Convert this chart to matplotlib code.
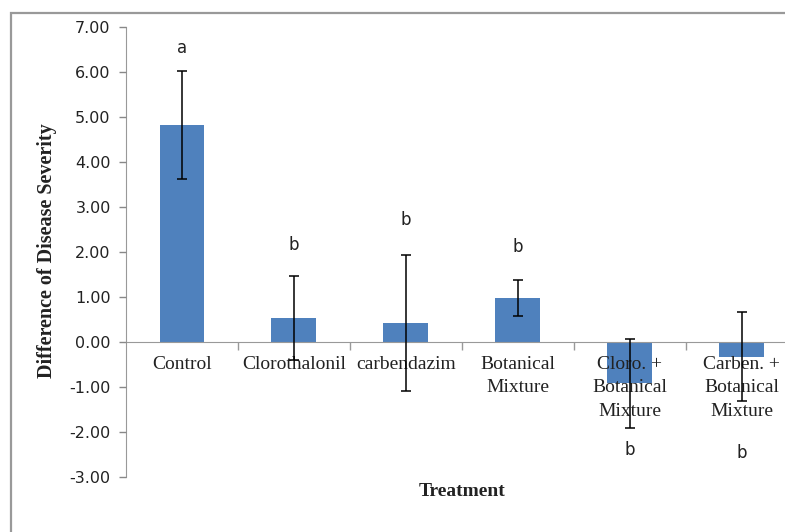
import matplotlib
matplotlib.use('Agg')
import matplotlib.pyplot as plt
from matplotlib.patches import Rectangle
import numpy as np

# data
treatments = ['Control', 'Clorothalonil', 'carbendazim', 'Botanical\nMixture',
              'Cloro. +\nBotanical\nMixture', 'Carben. +\nBotanical\nMixture']
severity_diff = [4.82, 0.53, 0.43, 0.98, -0.92, -0.33]
std_err = [1.20, 0.93, 1.51, 0.40, 0.99, 0.99]
letters = ['a', 'b', 'b', 'b', 'b', 'b']
letter_y = [6.53, 2.16, 2.71, 2.12, -2.40, -2.47]
y_ticks = [-3, -2, -1, 0, 1, 2, 3, 4, 5, 6, 7]

W, H = 785, 532
fig = plt.figure(figsize=(W / 100, H / 100), dpi=100)
fig.patch.set_facecolor('white')

# axes placed in pixel terms; right edge runs past the figure like the original crop
left, right = 126, 797.5
top, bottom = 27, 477
ax = fig.add_axes([left / W, 1 - bottom / H, (right - left) / W, (bottom - top) / H])
ax.set_axisbelow(False)  # category labels drawn over the negative bars

x = np.arange(len(treatments))
ax.bar(x, severity_diff, width=0.4, color='#4F81BD', zorder=2)
ax.errorbar(x, severity_diff, yerr=std_err, fmt='none', ecolor='black',
            elinewidth=1.1, capsize=3.5, capthick=1.1, zorder=4)

for xi, lab, ly in zip(x, letters, letter_y):
    ax.text(xi, ly, lab, ha='center', va='center', fontsize=12,
            family='DejaVu Sans', color='#222222')

ax.set_xlim(-0.5, len(treatments) - 0.5)
ax.set_ylim(-3, 7)

ax.set_yticks(y_ticks)
ax.set_yticklabels([f'{v:.2f}' for v in y_ticks], fontsize=11.5,
                   family='DejaVu Sans', color='#222222')
ax.tick_params(axis='y', direction='out', length=5, width=1, color='#888888', pad=6)

# category axis sits on the zero line
ax.spines['bottom'].set_position(('data', 0))
ax.spines['bottom'].set_color('#999999')
ax.spines['left'].set_color('#999999')
ax.spines['top'].set_visible(False)
ax.spines['right'].set_visible(False)

ax.set_xticks(x)
ax.set_xticklabels(treatments, fontsize=14, family='Liberation Serif',
                   linespacing=1.5, color='#222222')
ax.set_xticks(x[1:] - 0.5, minor=True)
ax.tick_params(axis='x', which='major', length=0, pad=10)
ax.tick_params(axis='x', which='minor', direction='out', length=6, width=1, color='#999999')

fig.text(47 / W, 1 - 251 / H, 'Difference of Disease Severity', rotation=90,
         ha='center', va='center', fontsize=14.5, fontweight='bold',
         family='Liberation Serif', color='#222222')
fig.text(462 / W, 1 - 492 / H, 'Treatment', ha='center', va='center',
         fontsize=14, fontweight='bold', family='Liberation Serif', color='#222222')

# grey frame of the chart area, cut off at right and bottom
fig.patches.append(Rectangle((11 / W, -0.1), 1.2, 1 - 13 / H + 0.1,
                             transform=fig.transFigure, fill=False,
                             edgecolor='#999999', linewidth=1.6))

fig.savefig('out.png', dpi=100, facecolor='white')
